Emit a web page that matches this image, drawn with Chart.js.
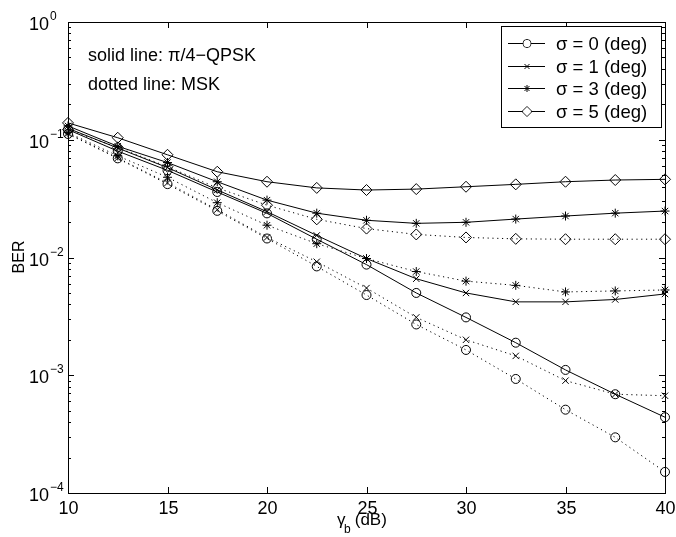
<!DOCTYPE html>
<html>
<head>
<meta charset="utf-8">
<script src="https://cdn.jsdelivr.net/npm/chart.js@4/dist/chart.umd.min.js"></script>
<style>
  html, body { margin: 0; padding: 0; background: #fff; }
</style>
</head>
<body>
<canvas id="ber" width="676" height="537"></canvas>
<script>
// Eb/N0 grid (dB) and BER values
const snr = [10, 12.5, 15, 17.5, 20, 22.5, 25, 27.5, 30, 32.5, 35, 37.5, 40];

// solid lines: pi/4-QPSK
const qpsk0 = [0.122, 0.080, 0.055, 0.036, 0.0237, 0.0143, 0.0087, 0.0050, 0.0031, 0.00189, 0.00111, 0.00069, 0.00044];
const qpsk1 = [0.125, 0.085, 0.058, 0.0375, 0.0245, 0.0154, 0.0098, 0.0066, 0.0050, 0.0042, 0.0042, 0.0044, 0.0049];
const qpsk3 = [0.131, 0.088, 0.064, 0.044, 0.0307, 0.0238, 0.0207, 0.0195, 0.0199, 0.0212, 0.0225, 0.0238, 0.0248];
const qpsk5 = [0.139, 0.104, 0.0745, 0.0535, 0.044, 0.039, 0.0374, 0.0381, 0.0399, 0.0418, 0.044, 0.0455, 0.0461];

// dotted lines: MSK
const msk0 = [0.112, 0.0695, 0.042, 0.0249, 0.0145, 0.0084, 0.0048, 0.0027, 0.00164, 0.00093, 0.00051, 0.000297, 0.000151];
const msk1 = [0.113, 0.070, 0.043, 0.0255, 0.0148, 0.0092, 0.0055, 0.0031, 0.0020, 0.00146, 0.0009, 0.00069, 0.00067];
const msk3 = [0.115, 0.073, 0.048, 0.0292, 0.0188, 0.0131, 0.0098, 0.0076, 0.0063, 0.0058, 0.0051, 0.0052, 0.0053];
const msk5 = [0.122, 0.086, 0.059, 0.039, 0.0278, 0.0211, 0.0176, 0.0157, 0.0148, 0.0144, 0.0143, 0.0143, 0.0143];

const xTicks = [10, 15, 20, 25, 30, 35, 40];
const yExponents = [0, -1, -2, -3, -4];
const sigmaLabels = ['σ = 0 (deg)', 'σ = 1 (deg)', 'σ = 3 (deg)', 'σ = 5 (deg)'];
const markerStyles = ['circle', 'crossRot', 'star', 'rectRot'];
const markerSizes = [4.5, 4.5, 4.5, 5.5];

const font = '"Liberation Sans", Arial, Helvetica, sans-serif';

function series(values, i, dotted) {
    return {
        data: snr.map((x, k) => ({ x, y: values[k] })),
        borderColor: '#000',
        borderWidth: 1,
        borderDash: dotted ? [1.2, 3.6] : [],
        pointStyle: markerStyles[i],
        pointRadius: markerSizes[i],
        pointBorderColor: '#000',
        pointBorderWidth: 1,
        pointBackgroundColor: 'rgba(0,0,0,0)',
        tension: 0,
        clip: false,
    };
}

// draw one legend marker by hand
function marker(ctx, style, x, y, r) {
    ctx.beginPath();
    if (style === 'circle') {
        ctx.arc(x, y, r, 0, Math.PI * 2);
    } else if (style === 'crossRot') {
        const d = r * Math.SQRT1_2;
        ctx.moveTo(x - d, y - d); ctx.lineTo(x + d, y + d);
        ctx.moveTo(x + d, y - d); ctx.lineTo(x - d, y + d);
    } else if (style === 'star') {
        const d = r * Math.SQRT1_2;
        ctx.moveTo(x - r, y); ctx.lineTo(x + r, y);
        ctx.moveTo(x, y - r); ctx.lineTo(x, y + r);
        ctx.moveTo(x - d, y - d); ctx.lineTo(x + d, y + d);
        ctx.moveTo(x + d, y - d); ctx.lineTo(x - d, y + d);
    } else {
        ctx.moveTo(x, y - r); ctx.lineTo(x + r, y);
        ctx.lineTo(x, y + r); ctx.lineTo(x - r, y);
        ctx.closePath();
    }
    ctx.stroke();
}

const axesPlugin = {
    id: 'matlabAxes',
    afterDraw(chart) {
        const { ctx, chartArea: a, scales: { x, y } } = chart;
        ctx.save();
        ctx.strokeStyle = '#000';
        ctx.fillStyle = '#000';
        ctx.lineWidth = 1;

        // box
        ctx.strokeRect(Math.round(a.left) + 0.5, Math.round(a.top) + 0.5,
            Math.round(a.right - a.left), Math.round(a.bottom - a.top));

        // x ticks (inward, bottom and top) + labels
        ctx.font = '18px ' + font;
        ctx.textAlign = 'center';
        ctx.textBaseline = 'alphabetic';
        xTicks.forEach(v => {
            const px = Math.round(x.getPixelForValue(v)) + 0.5;
            ctx.beginPath();
            ctx.moveTo(px, a.bottom); ctx.lineTo(px, a.bottom - 6);
            ctx.moveTo(px, a.top); ctx.lineTo(px, a.top + 6);
            ctx.stroke();
            ctx.fillText(String(v), px, a.bottom + 21);
        });

        // y ticks: majors at decades, minors at 2..9
        yExponents.forEach(e => {
            const py = Math.round(y.getPixelForValue(Math.pow(10, e))) + 0.5;
            ctx.beginPath();
            ctx.moveTo(a.left, py); ctx.lineTo(a.left + 6, py);
            ctx.moveTo(a.right, py); ctx.lineTo(a.right - 6, py);
            ctx.stroke();
            if (e > -4) {
                for (let m = 2; m <= 9; m++) {
                    const my = Math.round(y.getPixelForValue(m * Math.pow(10, e - 1))) + 0.5;
                    ctx.beginPath();
                    ctx.moveTo(a.left, my); ctx.lineTo(a.left + 3, my);
                    ctx.moveTo(a.right, my); ctx.lineTo(a.right - 3, my);
                    ctx.stroke();
                }
            }
            // label 10^e
            ctx.font = '18px ' + font;
            ctx.textAlign = 'right';
            ctx.fillText('10', 49, py + 7.5);
            ctx.font = '12px ' + font;
            ctx.textAlign = 'left';
            ctx.fillText(e === 0 ? '0' : '\u2212' + Math.abs(e), 50, py - 3);
        });

        // axis titles
        ctx.font = '17px ' + font;
        ctx.textAlign = 'left';
        ctx.fillText('γ', 337, 525);
        ctx.font = '12px ' + font;
        ctx.fillText('b', 344, 533);
        ctx.font = '17px ' + font;
        ctx.fillText(' (dB)', 350, 525);

        ctx.save();
        ctx.translate(24, 257);
        ctx.rotate(-Math.PI / 2);
        ctx.textAlign = 'center';
        ctx.font = '16px ' + font;
        ctx.fillText('BER', 0, 0);
        ctx.restore();

        // annotations
        ctx.font = '18px ' + font;
        ctx.textAlign = 'left';
        ctx.fillText('solid line: π/4\u2212QPSK', 88, 61);
        ctx.fillText('dotted line: MSK', 88, 90);

        // legend
        const lx = 501, ly = 26, lw = 160, lh = 101;
        ctx.fillStyle = '#fff';
        ctx.fillRect(lx, ly, lw, lh);
        ctx.strokeRect(lx + 0.5, ly + 0.5, lw, lh);
        ctx.fillStyle = '#000';
        ctx.textBaseline = 'middle';
        sigmaLabels.forEach((t, i) => {
            const ry = Math.round(ly + 17 + i * 22.5) + 0.5;
            ctx.beginPath();
            ctx.moveTo(508, ry); ctx.lineTo(545, ry);
            ctx.stroke();
            ctx.fillStyle = '#fff';
            marker(ctx, markerStyles[i], 527, ry, i === 0 ? 4 : (i === 3 ? 5 : 3.5));
            if (i === 0 || i === 3) {
                // hollow marker: blank the line under it
                ctx.beginPath();
                if (i === 0) ctx.arc(527, ry, 3.5, 0, Math.PI * 2);
                else { ctx.moveTo(527, ry - 4.3); ctx.lineTo(531.3, ry); ctx.lineTo(527, ry + 4.3); ctx.lineTo(522.7, ry); ctx.closePath(); }
                ctx.fill();
            }
            ctx.fillStyle = '#000';
            ctx.font = '18.5px ' + font;
            ctx.fillText(t, 556, ry + 1);
        });

        ctx.restore();
    }
};

const ctx = document.getElementById('ber').getContext('2d');

const berChart = new Chart(ctx, {
    type: 'line',
    data: {
        datasets: [
            series(qpsk0, 0, false),
            series(qpsk1, 1, false),
            series(qpsk3, 2, false),
            series(qpsk5, 3, false),
            series(msk0, 0, true),
            series(msk1, 1, true),
            series(msk3, 2, true),
            series(msk5, 3, true),
        ]
    },
    options: {
        responsive: false,
        animation: false,
        devicePixelRatio: 1,
        layout: {
            padding: { left: 68, right: 11, top: 22, bottom: 44 },
        },
        plugins: {
            legend: { display: false },
            tooltip: { enabled: false },
        },
        scales: {
            x: {
                type: 'linear',
                min: 10,
                max: 40,
                display: false,
            },
            y: {
                type: 'logarithmic',
                min: 1e-4,
                max: 1,
                display: false,
            }
        }
    },
    plugins: [axesPlugin]
});
</script>
</body>
</html>
